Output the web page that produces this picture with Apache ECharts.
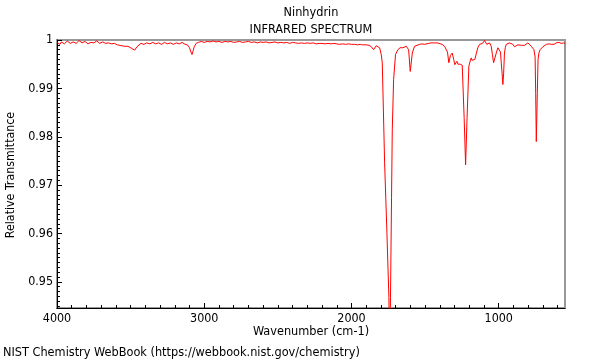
<!DOCTYPE html>
<html><head><meta charset="utf-8">
<script src="https://cdn.jsdelivr.net/npm/echarts@6/dist/echarts.min.js"></script>
<style>html,body{margin:0;padding:0;background:#fff}#c{width:600px;height:360px}</style>
</head><body><div id="c"></div>
<script>
const wavenumber = [
4000,3990,3980,3970,3960,3950,3940,3930,3920,3910,3900,3890,3880,3870,3860,3850,3840,3830,3820,3810,3800,3790,
3780,3770,3760,3750,3740,3730,3720,3710,3700,3690,3680,3670,3660,3650,3640,3630,3620,3610,3600,3590,3580,
3560,3540,3518,3505,3495,3485,3473,3465,3457,3445,3430,3410,3390,3370,3350,3330,3310,3290,3270,3250,3230,3210,
3190,3170,3150,3130,3115,3100,3090,3083,3075,3068,3055,3040,3020,3000,2980,2960,2940,2920,2900,2880,2860,2840,
2820,2800,2780,2760,2740,2720,2700,2680,2660,2640,2620,2600,2580,2560,2540,2520,2500,2480,2460,2440,2420,2400,
2380,2360,2340,2320,2300,2280,2260,2240,2220,2200,2180,2160,2140,2120,2100,2080,2060,2040,2020,2000,1980,1960,
1940,1925,1900,1880,1865,1850,1840,1832,1820,1809,1798,1791,1775,1760,1746,1741,1735,1728,1723,1714,1701,1685,
1670,1651,1640,1628,1612,1601,1587,1572,1555,1538,1520,1505,1492,1475,1460,1447,1430,1415,1402,1385,1368,1356,
1348,1339,1328,1316,1306,1298,1290,1284,1277,1271,1262,1255,1248,1244,1235,1225,1215,1203,1195,1187,1181,1176,
1168,1162,1150,1142,1130,1119,1110,1105,1096,1090,1081,1072,1062,1051,1043,1035,1024,1015,1006,994,988,983,
977,972,967,961,955,949,940,927,915,904,893,881,870,859,845,835,825,815,802,790,779,770,761,753,749,745,
738,733,727,719,711,700,690,677,667,657,650,643,635,625,618,610,600,590,583,576,568,560,550
];
const transmittance = [
0.9995,0.9998,0.9991,0.9996,0.9997,0.9992,0.9993,0.9998,0.9996,0.9993,0.9992,0.9996,0.9997,0.9993,0.9994,0.9999,0.9998,0.9994,0.9993,0.9997,0.9995,0.9992,
0.9991,0.9995,0.9996,0.9994,0.9993,0.9998,0.9997,0.9993,0.9992,0.9996,0.9995,0.9993,0.9991,0.9994,0.9994,0.9992,0.9990,0.9993,0.9993,0.9990,0.9989,
0.9988,0.9987,0.9987,0.9984,0.9983,0.9982,0.9979,0.9983,0.9986,0.9990,0.9993,0.9991,0.9994,0.9992,0.9995,0.9992,0.9994,0.9991,0.9995,0.9992,0.9994,0.9991,
0.9994,0.9992,0.9995,0.9991,0.9990,0.9984,0.9975,0.9970,0.9978,0.9986,0.9993,0.9995,0.9997,0.9995,0.9997,0.9996,0.9998,0.9996,0.9997,0.9995,0.9997,0.9996,
0.9997,0.9995,0.9996,0.9997,0.9995,0.9996,0.9997,0.9995,0.9996,0.9994,0.9996,0.9995,0.9996,0.9994,0.9995,0.9996,0.9994,0.9995,0.9994,0.9995,0.9993,0.9995,
0.9994,0.9993,0.9994,0.9993,0.9994,0.9993,0.9994,0.9992,0.9993,0.9993,0.9992,0.9993,0.9992,0.9993,0.9992,0.9991,0.9992,0.9991,0.9992,0.9991,0.9991,0.9990,
0.9991,0.9990,0.9990,0.9989,0.9986,0.9980,0.9984,0.9988,0.9987,0.9984,0.9970,0.9953,0.9746,0.9607,0.9468,0.9350,0.9468,0.9675,0.9814,0.9918,0.9970,0.9980,
0.9984,0.9984,0.9986,0.9987,0.9980,0.9935,0.9973,0.9987,0.9989,0.9991,0.9992,0.9991,0.9993,0.9993,0.9994,0.9995,0.9994,0.9994,0.9993,0.9991,0.9987,0.9987,
0.9975,0.9953,0.9968,0.9973,0.9960,0.9949,0.9953,0.9956,0.9950,0.9947,0.9950,0.9953,0.9948,0.9946,0.9840,0.9742,0.9840,0.9946,0.9955,0.9963,0.9958,0.9956,
0.9959,0.9960,0.9975,0.9984,0.9991,0.9994,0.9993,0.9997,0.9999,0.9995,0.9991,0.9995,0.9994,0.9987,0.9970,0.9953,0.9949,0.9975,0.9984,0.9987,0.9975,0.9953,
0.9930,0.9908,0.9930,0.9973,0.9985,0.9991,0.9993,0.9994,0.9991,0.9991,0.9986,0.9984,0.9990,0.9991,0.9989,0.9992,0.9989,0.9991,0.9994,0.9991,0.9987,0.9983,0.9980,0.9965,0.9890,0.9790,
0.9891,0.9960,0.9973,0.9980,0.9984,0.9986,0.9990,0.9991,0.9988,0.9992,0.9990,0.9991,0.9994,0.9991,0.9995,0.9994,0.9992,0.9995,0.9993,0.9993,0.9996,0.9994,0.9993
];
const xMajorTicks = [1000, 2000, 3000, 4000];
const yMajorTicks = [0.95, 0.96, 0.97, 0.98, 0.99, 1];
const xMinorTicks = [];
for (let v = 600; v <= 4000; v += 100) xMinorTicks.push(v);
const yMinorTicks = [];
for (let i = 945; i <= 1000; i++) yMinorTicks.push(i / 1000);

const FONT = '"DejaVu Sans Condensed", "DejaVu Sans", sans-serif';
const X_MIN = 550, X_MAX = 4000, Y_MIN = 0.9446, Y_MAX = 1.0;

const chart = echarts.init(document.getElementById('c'), null, {renderer: 'canvas'});
const seriesData = wavenumber.map((w, i) => [w, transmittance[i]]);

function txt(text, x, y, opts, size) {
  return {
    type: 'text', x: x, y: y,
    style: Object.assign({
      text: text, font: (size || 12.6) + 'px ' + FONT, fill: '#000',
      align: 'center', verticalAlign: 'middle',
      textAlign: 'center', textVerticalAlign: 'middle'
    }, opts || {})
  };
}

chart.setOption({
  animation: false,
  backgroundColor: '#fff',
  grid: {left: 57, right: 35, top: 40, bottom: 52, show: true, borderColor: '#999', borderWidth: 2, containLabel: false},
  xAxis: [{
    type: 'value', inverse: true, min: X_MIN, max: X_MAX,
    axisLine: {show: true, onZero: false, lineStyle: {color: '#000', width: 1}},
    axisTick: {show: true, inside: true, length: 5, customValues: xMajorTicks, lineStyle: {color: '#000'}},
    axisLabel: {show: true, customValues: xMajorTicks, margin: 5, color: '#000', fontSize: 12.4, fontFamily: FONT,
      formatter: v => String(v)},
    splitLine: {show: false}
  }, {
    type: 'value', inverse: true, min: X_MIN, max: X_MAX, position: 'bottom',
    axisLine: {show: false},
    axisTick: {show: true, inside: true, length: 3, customValues: xMinorTicks, lineStyle: {color: '#000'}},
    axisLabel: {show: false},
    splitLine: {show: false}
  }],
  yAxis: [{
    type: 'value', min: Y_MIN, max: Y_MAX,
    axisLine: {show: true, onZero: false, lineStyle: {color: '#000', width: 1}},
    axisTick: {show: true, inside: true, length: 5, customValues: yMajorTicks, lineStyle: {color: '#000'}},
    axisLabel: {show: true, customValues: yMajorTicks, margin: 4, color: '#000', fontSize: 12.4, fontFamily: FONT,
      formatter: v => String(Math.round(v * 100) / 100)},
    splitLine: {show: false}
  }, {
    type: 'value', min: Y_MIN, max: Y_MAX, position: 'left',
    axisLine: {show: false},
    axisTick: {show: true, inside: true, length: 3, customValues: yMinorTicks, lineStyle: {color: '#000'}},
    axisLabel: {show: false},
    splitLine: {show: false}
  }],
  series: [{
    type: 'line', xAxisIndex: 0, yAxisIndex: 0,
    data: seriesData, showSymbol: false, symbol: 'none', clip: true,
    lineStyle: {color: '#ff0000', width: 1}
  }],
  graphic: [
    txt('Ninhydrin', 311, 12.5),
    txt('INFRARED SPECTRUM', 311, 29.5),
    txt('Wavenumber (cm-1)', 311, 332),
    txt('NIST Chemistry WebBook (https://webbook.nist.gov/chemistry)', 3, 352.5, {align: 'left', textAlign: 'left'}),
    Object.assign(txt('Relative Transmittance', 0, 0, null, 12.3), {x: 10.5, y: 175, rotation: Math.PI / 2})
  ]
});
</script>
</body></html>
